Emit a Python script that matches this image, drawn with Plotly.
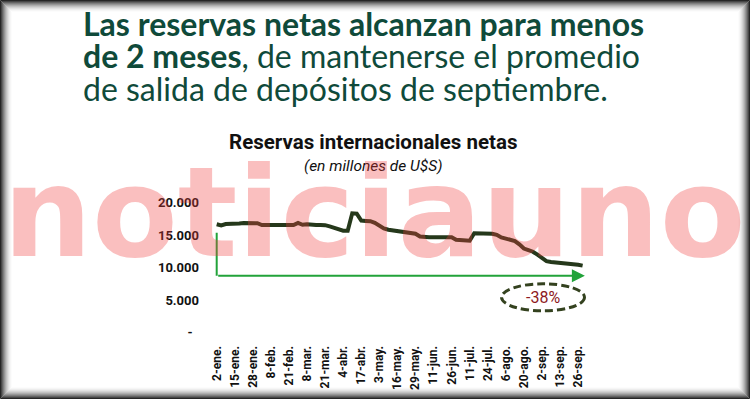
import plotly.graph_objects as go

# ---------------- data ----------------
tick_labels = ["2-ene.", "15-ene.", "28-ene.", "8-feb.", "21-feb.", "8-mar.", "21-mar.",
               "4-abr.", "17-abr.", "3-may.", "16-may.", "29-may.", "11-jun.", "26-jun.",
               "11-jul.", "24-jul.", "6-ago.", "20-ago.", "2-sep.", "13-sep.", "26-sep."]
points_per_label = 4

reservas = [16680, 16500, 16720, 16720, 16720, 16800, 16880, 16880, 16880, 16850,
            16570, 16570, 16570, 16570, 16570, 16570, 16570, 16570, 16900, 16600,
            16700, 16570, 16570, 16570, 16550, 16350, 16150, 15800, 15700, 15700,
            18370, 18300, 17250, 17200, 17150, 16900, 16500, 16050, 15850, 15750,
            15650, 15550, 15420, 15280, 15220, 14800, 14700, 14680, 14680, 14650,
            14720, 14720, 14700, 14300, 14280, 14250, 14150, 15290, 15290, 15270,
            15250, 15220, 15050, 14650, 14480, 14300, 14100, 13600, 12950, 12700,
            12460, 12000, 11400, 11000, 10880, 10820, 10780, 10720, 10670, 10550,
            10450, 10320]

y_ticks = [0, 5000, 10000, 15000, 20000]
y_tick_text = ["-\u00a0\u00a0", "5.000", "10.000", "15.000", "20.000"]

arrow_top = 15380
arrow_level = 8770
variacion = "-38%"

# ---------------- figure ----------------
x_idx = list(range(len(reservas)))
tick_pos = [i * points_per_label for i in range(len(tick_labels))]

W, H = 750, 399
narrow = "Roboto, Liberation Sans, sans-serif"

fig = go.Figure()
fig.add_trace(go.Scatter(
    x=x_idx, y=reservas, mode="lines",
    line=dict(color="#25381b", width=4),
    hoverinfo="skip", showlegend=False,
))

# axis geometry (pixels)
px_first, px_step = 216.7, 18.07 / points_per_label
plot_left, plot_right = 206, 600
y0_px, y20k_px = 332.7, 202.7
x_range = [(plot_left - px_first) / px_step, (plot_right - px_first) / px_step]

fig.update_layout(
    width=W, height=H,
    margin=dict(l=0, r=0, t=0, b=0, autoexpand=False),
    paper_bgcolor="white", plot_bgcolor="white",
    showlegend=False,
    xaxis=dict(
        domain=[plot_left / W, plot_right / W],
        range=x_range, automargin=False,
        tickmode="array", tickvals=tick_pos, ticktext=[f"<b>{t}</b>" for t in tick_labels],
        tickangle=-90, showgrid=False, zeroline=False, showline=False, ticks="",
        tickfont=dict(family=narrow, size=12, color="#111111"),
        ticklabelstandoff=10,
    ),
    yaxis=dict(
        domain=[1 - y0_px / H, 1 - y20k_px / H],
        range=[0, 20000], automargin=False,
        tickmode="array", tickvals=y_ticks, ticktext=[f"<b>{t}</b>" for t in y_tick_text],
        showgrid=False, zeroline=False, showline=False, ticks="",
        tickfont=dict(family=narrow, size=13, color="#111111"),
        ticklabelstandoff=6,
    ),
)

# green L-shaped arrow
fig.add_shape(type="line", xref="x", yref="y", x0=0, x1=0, y0=arrow_top, y1=arrow_level,
              line=dict(color="#22a33a", width=2))
fig.add_annotation(x=len(reservas) - 0.5, y=arrow_level, ax=0, ay=arrow_level,
                   xref="x", yref="y", axref="x", ayref="y", text="",
                   showarrow=True, arrowhead=2, arrowsize=1.3, arrowwidth=2,
                   arrowcolor="#22a33a", standoff=0, startstandoff=0)

# dashed ellipse with variation
ell_cx, ell_cy = (543 - px_first) / px_step, (y0_px - 297.3) / (y0_px - y20k_px) * 20000
ell_rx, ell_ry = 41.5 / px_step, 13.5 / (y0_px - y20k_px) * 20000
fig.add_shape(type="circle", xref="x", yref="y",
              x0=ell_cx - ell_rx, x1=ell_cx + ell_rx, y0=ell_cy - ell_ry, y1=ell_cy + ell_ry,
              line=dict(color="#34421f", width=3, dash="8px,4px"))
fig.add_annotation(x=ell_cx, y=ell_cy, xref="x", yref="y", text=variacion, showarrow=False,
                   font=dict(family=narrow, size=16, color="#8e1a1e"))

# headline
head_font = "Lato, Open Sans, sans-serif"
head_color = "#0f4a3a"
head_lines = ["<b>Las reservas netas alcanzan para menos</b>",
              "<b>de 2 meses</b>, de mantenerse el promedio",
              "de salida de depósitos de septiembre."]
for k, line in enumerate(head_lines):
    fig.add_annotation(x=81 / W, y=1 - (23 + 32.5 * k) / H, xref="paper", yref="paper",
                       xanchor="left", yanchor="middle", text=line, showarrow=False,
                       font=dict(family=head_font, size=32, color=head_color))

# chart title
fig.add_annotation(x=373 / W, y=1 - 142 / H, xref="paper", yref="paper",
                   text="<b>Reservas internacionales netas</b>", showarrow=False,
                   font=dict(family=narrow, size=20.5, color="#111111"))
fig.add_annotation(x=373 / W, y=1 - 166 / H, xref="paper", yref="paper",
                   text="<i>(en millones de U$S)</i>", showarrow=False,
                   font=dict(family=narrow, size=15.5, color="#111111"))

# watermark
fig.add_annotation(x=374.5 / W, y=1 - 212 / H, xref="paper", yref="paper",
                   text="<b>noticiauno</b>", showarrow=False,
                   font=dict(family="DejaVu Sans, sans-serif", size=125,
                             color="rgba(240,60,60,0.33)"))

# vignette frame
n = 12
for k in range(n):
    a = 0.85 * ((n - k) / n) ** 1.8
    fig.add_shape(type="rect", xref="paper", yref="paper",
                  x0=(k + 0.5) / W, x1=1 - (k + 0.5) / W,
                  y0=(k + 0.5) / H, y1=1 - (k + 0.5) / H,
                  line=dict(color=f"rgba(0,0,0,{a:.3f})", width=1), layer="above")

fig.write_html("out.html", config={"displayModeBar": False},
               post_script="document.body.style.margin='0px';")
